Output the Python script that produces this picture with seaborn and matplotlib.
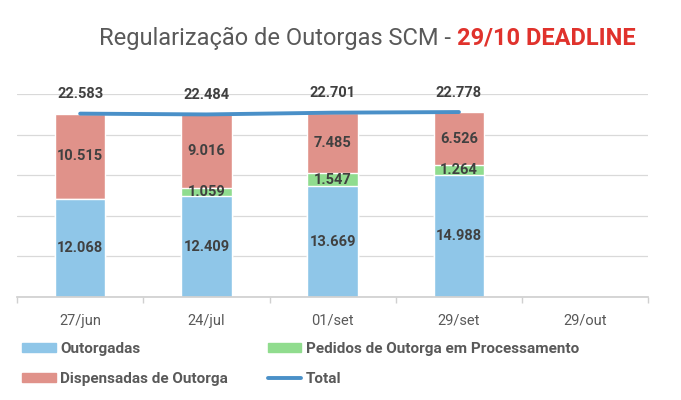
import matplotlib
matplotlib.use("Agg")
import matplotlib.pyplot as plt
import numpy as np
import pandas as pd
import seaborn as sns
from matplotlib.patches import Patch
from matplotlib.lines import Line2D

datas = ["27/jun", "24/jul", "01/set", "29/set", "29/out"]
outorgadas = [12068, 12409, 13669, 14988, np.nan]
pedidos = [0, 1059, 1547, 1264, np.nan]
dispensadas = [10515, 9016, 7485, 6526, np.nan]
total = [22583, 22484, 22701, 22778, np.nan]

c_out = "#8fc6e8"
c_ped = "#90dc8e"
c_disp = "#e0928a"
c_total = "#4a90c8"
c_text = "#404040"
c_gray = "#595959"

sns.set_theme(style="white")
plt.rcParams["font.family"] = ["Roboto", "DejaVu Sans"]

df = pd.DataFrame({
    "data": datas,
    "outorgadas": outorgadas,
    "pedidos": pedidos,
    "dispensadas": dispensadas,
    "total": total,
})
df["nivel_ped"] = df["outorgadas"] + df["pedidos"]
df["nivel_disp"] = df["nivel_ped"] + df["dispensadas"]

fig = plt.figure(figsize=(6.81, 4.0), dpi=100)
ax = fig.add_axes([0.025, 0.2575, 0.927, 0.5075])

# stacked bars drawn back to front
w = 0.4
sns.barplot(data=df, x="data", y="nivel_disp", color=c_disp, width=w,
            saturation=1, order=datas, ax=ax)
sns.barplot(data=df, x="data", y="nivel_ped", color=c_ped, width=w,
            saturation=1, order=datas, ax=ax)
sns.barplot(data=df, x="data", y="outorgadas", color=c_out, width=w,
            saturation=1, order=datas, ax=ax)

pos = np.arange(len(datas))
sns.lineplot(x=pos, y=df["total"], color=c_total, linewidth=2.8, ax=ax)

def fmt(v):
    return f"{int(v):,}".replace(",", ".")

for i, row in df.iterrows():
    if np.isnan(row["total"]):
        continue
    ax.text(i, row["outorgadas"] / 2, fmt(row["outorgadas"]), ha="center",
            va="center", fontsize=10.5, fontweight="bold", color=c_text)
    if row["pedidos"] > 0:
        ax.text(i, row["outorgadas"] + row["pedidos"] / 2, fmt(row["pedidos"]),
                ha="center", va="center", fontsize=10.5, fontweight="bold",
                color=c_text)
    ax.text(i, row["nivel_ped"] + row["dispensadas"] / 2, fmt(row["dispensadas"]),
            ha="center", va="center", fontsize=10.5, fontweight="bold",
            color=c_text)
    ax.annotate(fmt(row["total"]), (i, row["total"]), xytext=(0, 14),
                textcoords="offset points", ha="center", va="center",
                fontsize=10.5, fontweight="bold", color=c_text)

ax.set_ylim(0, 25000)
ax.set_xlim(-0.5, len(datas) - 0.5)
ax.set_yticks(np.arange(0, 25001, 5000))
ax.yaxis.grid(True, color="#d9d9d9", linewidth=0.9)
ax.set_axisbelow(True)
ax.tick_params(axis="y", left=False, labelleft=False)
ax.tick_params(axis="x", bottom=False, labelsize=10.5, labelcolor=c_gray, pad=6)
ax.set_xticks(np.arange(-0.5, len(datas)), minor=True)
ax.tick_params(axis="x", which="minor", bottom=True, length=4, color="#d0d0d0")
ax.set_xlabel("")
ax.set_ylabel("")
for s in ["top", "right", "left"]:
    ax.spines[s].set_visible(False)
ax.spines["bottom"].set_color("#d0d0d0")

# title in two colours
t1 = fig.text(0.145, 0.905, "Regularização de Outorgas SCM - ", fontsize=17,
              color=c_gray, ha="left", va="center")
fig.canvas.draw()
bb = t1.get_window_extent()
x2 = bb.x1 / fig.bbox.width
fig.text(x2, 0.905, "29/10 DEADLINE", fontsize=17, fontweight="bold",
         color="#e0322c", ha="left", va="center")

handles = [
    Patch(color=c_out, label="Outorgadas"),
    Patch(color=c_disp, label="Dispensadas de Outorga"),
    Patch(color=c_ped, label="Pedidos de Outorga em Processamento"),
    Line2D([0], [0], color=c_total, linewidth=2.8, label="Total"),
]
leg = fig.legend(handles=handles, loc="upper left", bbox_to_anchor=(0.012, 0.18),
                 ncol=2, frameon=False, handlelength=2.2,
                 handleheight=0.6, columnspacing=2.6, labelspacing=1.05,
                 handletextpad=0.3,
                 prop={"family": ["Roboto", "DejaVu Sans"],
                       "size": 11, "weight": "bold"})
for t in leg.get_texts():
    t.set_color(c_gray)

fig.savefig("out.png", dpi=100)
